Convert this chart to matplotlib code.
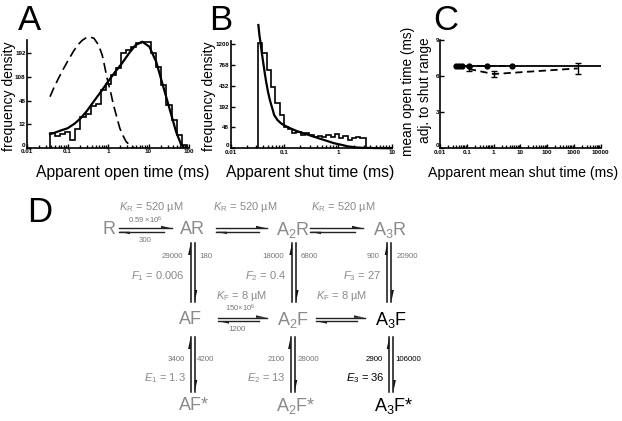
import numpy as np
import matplotlib
matplotlib.use('Agg')
import matplotlib.pyplot as plt
from matplotlib.patches import Polygon

plt.rcParams['font.family'] = ['Liberation Sans', 'DejaVu Sans']
plt.rcParams['mathtext.fontset'] = 'custom'
plt.rcParams['mathtext.rm'] = 'Liberation Sans'
plt.rcParams['mathtext.it'] = 'Liberation Sans:italic'
plt.rcParams['mathtext.bf'] = 'Liberation Sans:bold'

# ---- panel A: apparent open times ----
open_edges = [0.0372, 0.0496, 0.0661, 0.0881, 0.117, 0.157, 0.209, 0.279, 0.371,
              0.495, 0.660, 0.880, 1.17, 1.56, 2.09, 2.78, 3.71, 4.95, 6.60,
              8.80, 11.7, 15.6, 20.9, 27.8, 37.1, 49.5, 66.0, 88.0]
open_dens = [4.9, 3.2, 3.9, 5.0, 1.4, 7.4, 20, 25, 38, 41, 72, 87, 114, 136,
             192, 206, 220, 235, 240, 242, 192, 141, 85, 39, 16.5, 3.5, 0.2]
open_fit_t = [0.037, 0.05, 0.07, 0.1, 0.15, 0.21, 0.3, 0.44, 0.65, 1.0, 1.5,
              2.2, 3.3, 4.8, 7.0, 10.5, 15.5, 22.5, 33, 48, 64, 75]
open_fit_y = [3.9, 5.0, 6.5, 8.1, 12.5, 18.6, 29, 45.6, 66, 94, 124, 153, 192,
              227, 242, 220, 159, 85, 33, 5.5, 0.2, 0]
open_ideal_t = [0.037, 0.045, 0.06, 0.08, 0.105, 0.14, 0.18, 0.23, 0.29, 0.36,
                0.45, 0.58, 0.72, 0.82, 0.95, 1.15, 1.37, 1.65, 1.96, 2.3, 2.8,
                3.7, 4.5]
open_ideal_y = [56, 75, 104, 135, 166, 200, 228, 248, 261, 264, 258, 228, 185,
                145, 104, 68, 39, 20, 8.1, 3.5, 0.8, 0.04, 0]

# ---- panel B: apparent shut times ----
shut_edges = [0.0328, 0.0394, 0.0473, 0.0567, 0.0681, 0.0817, 0.0980, 0.118,
              0.141, 0.169, 0.203, 0.244, 0.293, 0.351, 0.421, 0.506, 0.607,
              0.728, 0.874, 1.05, 1.26, 1.51, 1.81, 2.17, 2.61, 3.27]
shut_dens = [1231, 996, 676, 419, 223, 122, 51.5, 39.8, 24.8, 30.4, 19.5, 24.8,
             19.5, 14.9, 16.5, 13, 19.5, 14.9, 22.6, 11, 16.5, 7.6, 11, 13, 11]
shut_fit_t = [0.033, 0.0345, 0.0363, 0.038, 0.04, 0.043, 0.046, 0.05, 0.054,
              0.06, 0.065, 0.075, 0.087, 0.1, 0.13, 0.17, 0.23, 0.32, 0.44, 0.6,
              0.85, 1.2, 1.5, 2.1, 3.0, 10]
shut_fit_y = [1678, 1420, 1217, 1030, 861, 650, 490, 350, 258, 175, 122, 88, 69,
              58, 44, 33, 24.8, 17, 11, 6.5, 2.8, 1.2, 0.44, 0.1, 0.02, 0]

# ---- panel C: mean open time vs apparent mean shut time ----
c_dot_x = [0.0384, 0.0508, 0.068, 0.12, 0.58, 4.9]
c_dot_y = [6.86, 6.86, 6.86, 6.85, 6.85, 6.84]
c_true = 6.84
c_err_x = [0.12, 1.0, 1400]
c_err_y = [6.59, 6.17, 6.64]
c_err = [0.2, 0.28, 0.48]

# ---- panel D: scheme ----
top_states = ['R', 'AR', 'A$_2$R', 'A$_3$R']
mid_states = ['AF', 'A$_2$F', 'A$_3$F']
bot_states = ['AF*', 'A$_2$F*', 'A$_3$F*']
K_R = '$K_\\mathrm{R}$ = 520 \u00b5M'
K_F = '$K_\\mathrm{F}$ = 8 \u00b5M'
F_vals = ['$F_1$ = 0.006', '$F_2$ = 0.4', '$F_3$ = 27']
E_vals = ['$E_1$ = 1.3', '$E_2$ = 13', '$E_3$ = 36']
flip_up = ['29000', '18000', '900']
flip_down = ['180', '6800', '20900']
gate_up = ['3400', '2100', '2900']
gate_down = ['4200', '28000', '106000']

W, H = 622, 421
fig = plt.figure(figsize=(W / 100, H / 100), dpi=100)


def box(l, t, r, b):
    return [l / W, 1 - b / H, (r - l) / W, (b - t) / H]


def sq(y):
    return np.sqrt(np.clip(y, 0, None))


def unsq(y):
    return np.square(y)


GRAY = '#8a8a8a'
RATE = '#777777'

# full figure axes in pixel coordinates for the scheme and free labels
axd = fig.add_axes([0, 0, 1, 1])
axd.set_xlim(0, W)
axd.set_ylim(H, 0)
axd.axis('off')


def style(ax):
    for s in ['top', 'right']:
        ax.spines[s].set_visible(False)
    for s in ['left', 'bottom']:
        ax.spines[s].set_linewidth(1.2)
    ax.tick_params(which='both', direction='in', labelsize=4.5, pad=1, width=1)
    ax.tick_params(which='major', length=3)
    ax.tick_params(which='minor', length=2)
    for lab in ax.get_xticklabels() + ax.get_yticklabels():
        lab.set_fontweight('bold')
    # keep the "0" of the y axis clear of the first x label
    ax.get_yticklabels()[0].set_va('bottom')


# A
ax = fig.add_axes(box(27, 40, 189, 147.7))
ax.set_xscale('log')
ax.set_yscale('function', functions=(sq, unsq))
ax.stairs(open_dens, open_edges, color='k', lw=1.2)
ax.plot(open_fit_t, open_fit_y, color='k', lw=1.6)
ax.plot(open_ideal_t, open_ideal_y, color='k', lw=1.2, dashes=(6, 3), clip_on=False)
ax.set_xlim(0.01, 100)
ax.set_ylim(0, 250)
ax.set_xticks([0.01, 0.1, 1, 10, 100], ['0.01', '0.1', '1', '10', '100'])
ax.set_yticks([0, 12, 48, 108, 192], ['0', '12', '48', '108', '192'])
style(ax)

# B
ax = fig.add_axes(box(230.5, 40.7, 391.7, 148.3))
ax.set_xscale('log')
ax.set_yscale('function', functions=(sq, unsq))
ax.stairs(shut_dens, shut_edges, color='k', lw=1.2)
ax.plot(shut_fit_t, shut_fit_y, color='k', lw=1.6, clip_on=False)
ax.set_xlim(0.01, 10)
ax.set_ylim(0, 1278)
ax.set_xticks([0.01, 0.1, 1, 10], ['0.01', '0.1', '1', '10'])
ax.set_yticks([0, 48, 192, 432, 768, 1200], ['0', '48', '192', '432', '768', '1200'])
style(ax)

# C
ax = fig.add_axes(box(440, 40, 600.7, 148.3))
ax.set_xscale('log')
ax.plot([c_dot_x[0], 10000], [c_true, c_true], color='k', lw=1.3)
ax.plot(c_dot_x, c_dot_y, color='k', lw=1.2, dashes=(4, 2.5), marker='o', ms=3.5)
ax.errorbar(c_err_x, c_err_y, yerr=c_err, color='k', lw=1.3, dashes=(4, 2.5),
            capsize=2, capthick=1, elinewidth=1)
ax.set_xlim(0.01, 10000)
ax.set_ylim(0, 9)
ax.set_xticks([0.01, 0.1, 1, 10, 100, 1000, 10000],
              ['0.01', '0.1', '1', '10', '100', '1000', '10000'])
ax.set_yticks([0, 3, 6, 9], ['0', '3', '6', '9'])
style(ax)
ax.tick_params(axis='y', pad=0.5)

# panel letters and axis labels
for letter, x in zip('ABCD', [29, 221, 446, 40]):
    axd.text(x, 20 if letter != 'D' else 212, letter, fontsize=25,
             ha='center', va='center')
axd.text(123, 172, 'Apparent open time (ms)', fontsize=11.3, ha='center', va='center')
axd.text(310, 172, 'Apparent shut time (ms)', fontsize=11.3, ha='center', va='center')
axd.text(523, 173, 'Apparent mean shut time (ms)', fontsize=10.2, ha='center', va='center')
axd.text(9, 96, 'frequency density', fontsize=10, rotation=90, ha='center', va='center')
axd.text(209, 96, 'frequency density', fontsize=10, rotation=90, ha='center', va='center')
axd.text(408, 91, 'mean open time (ms)', fontsize=9.8, rotation=90, ha='center', va='center')
axd.text(425.5, 90, 'adj. to shut range', fontsize=9.8, rotation=90, ha='center', va='center')


# ---- scheme drawing helpers ----
def h_pair(x0, x1, y, col='#222222'):
    axd.plot([x0, x1], [y - 1.7, y - 1.7], color=col, lw=1)
    axd.add_patch(Polygon([[x1, y - 1.7], [x1 - 11, y - 4.2], [x1 - 11, y - 1.7]],
                          closed=True, color=col, lw=0))
    axd.plot([x0, x1 - 8], [y + 1.7, y + 1.7], color=col, lw=1)
    axd.add_patch(Polygon([[x0, y + 1.7], [x0 + 11, y + 4.2], [x0 + 11, y + 1.7]],
                          closed=True, color=col, lw=0))


def v_pair(x, y0, y1, col='#111111'):
    axd.plot([x, x], [y0, y1], color=col, lw=1.1)
    axd.add_patch(Polygon([[x, y0], [x - 2.6, y0 + 12], [x, y0 + 12]],
                          closed=True, color=col, lw=0))
    axd.plot([x + 4, x + 4], [y0, y1], color=col, lw=1.1)
    axd.add_patch(Polygon([[x + 4, y1], [x + 6.6, y1 - 12], [x + 4, y1 - 12]],
                          closed=True, color=col, lw=0))


# top row
for s, x in zip(top_states, [109, 192, 293, 390]):
    axd.text(x, 230, s, fontsize=13, color=GRAY, ha='center', va='center')
for x in [150.7, 245, 343.3]:
    axd.text(x, 206.7, K_R, fontsize=8, color=GRAY, ha='center', va='center')
h_pair(119, 172, 230)
h_pair(216, 267, 230)
h_pair(310, 363, 230)
axd.text(145, 220, '0.59 \u00d710$^6$', fontsize=5.5, color=RATE, ha='center', va='center')
axd.text(145, 240, '300', fontsize=5.7, color=RATE, ha='center', va='center')

# flipping steps
for i, x in enumerate([190.7, 292, 387.3]):
    v_pair(x, 243, 302)
    axd.text(x - 8, 257, flip_up[i], fontsize=5.7, color=RATE, ha='right', va='center')
    axd.text(x + 9, 257, flip_down[i], fontsize=5.7, color=RATE, ha='left', va='center')
    axd.text(x - 6, 276.5, F_vals[i], fontsize=8, color=GRAY, ha='right', va='center')
for x in [241.7, 341.7]:
    axd.text(x, 296, K_F, fontsize=8, color=GRAY, ha='center', va='center')

# middle row
for s, x, c in zip(mid_states, [190, 292.5, 391], [GRAY, GRAY, 'k']):
    axd.text(x, 320, s, fontsize=13, color=c, ha='center', va='center')
h_pair(218, 267, 319.5)
h_pair(316, 365, 319.5)
axd.text(240, 308.3, '150\u00d710$^6$', fontsize=5.5, color=RATE, ha='center', va='center')
axd.text(237.3, 329.3, '1200', fontsize=5.7, color=RATE, ha='center', va='center')

# gating steps
for i, x in enumerate([190.7, 290.7, 389.3]):
    col = 'k' if i == 2 else RATE
    v_pair(x, 337, 392)
    axd.text(x - 6, 359.3, gate_up[i], fontsize=5.7, color=col, ha='right', va='center')
    axd.text(x + 6.5, 359.3, gate_down[i], fontsize=5.7, color=col, ha='left', va='center')
    axd.text(x - 5, 378.3, E_vals[i], fontsize=8,
             color='k' if i == 2 else GRAY, ha='right', va='center')

# bottom row
for s, x, c in zip(bot_states, [194, 296, 394], [GRAY, GRAY, 'k']):
    axd.text(x, 406, s, fontsize=13, color=c, ha='center', va='center')

fig.savefig('out.png', dpi=100)
